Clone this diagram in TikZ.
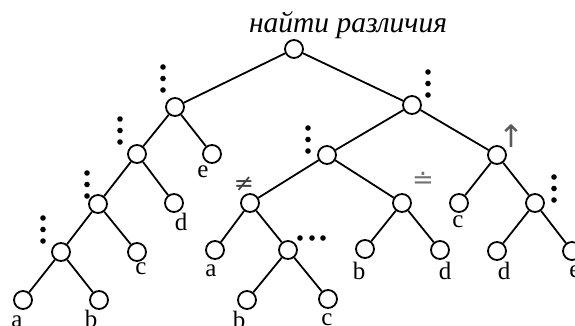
\documentclass[tikz,border=0pt]{standalone}
\usepackage{fontspec}
\setmainfont{Liberation Serif}
\newfontfamily\titlefont{Liberation Serif}
\newfontfamily\symfont{DejaVu Sans}
\begin{document}
\begin{tikzpicture}[x=1bp,y=-1bp,
  vtx/.style={circle,draw=black,line width=1.8bp,fill=white,minimum size=18bp,inner sep=0pt},
  edge/.style={line width=1.8bp},
  lbl/.style={inner sep=0pt,font=\fontsize{25bp}{25bp}\selectfont},
  sym/.style={inner sep=0pt},
  dotm/.style={fill=black,draw=none}]
\useasboundingbox (0,0) rectangle (575,325);
% title
\node[inner sep=0pt,anchor=base,font=\titlefont\itshape\fontsize{29.5bp}{29.5bp}\selectfont] (title) at (348,32) {найти различия};
% vertices
\node[vtx] (r) at (294,49) {};
\node[vtx] (A) at (175,107) {};
\node[vtx] (B) at (412,105) {};
\node[vtx] (A1) at (137,154) {};
\node[vtx] (Ae) at (212,154) {};
\node[vtx] (A2) at (98,204) {};
\node[vtx] (Ad) at (174,203) {};
\node[vtx] (A3) at (61,252) {};
\node[vtx] (Ac) at (137,252) {};
\node[vtx] (Aa) at (23,300) {};
\node[vtx] (Ab) at (99,300) {};
\node[vtx] (B1) at (327,155) {};
\node[vtx] (B2) at (497,155) {};
\node[vtx] (C1) at (250,203) {};
\node[vtx] (C2) at (402,203) {};
\node[vtx] (Ca) at (215,250) {};
\node[vtx] (Cx) at (288,250) {};
\node[vtx] (Cb) at (247,300) {};
\node[vtx] (Cc) at (328,299) {};
\node[vtx] (Db) at (365,249) {};
\node[vtx] (Dd) at (440,250) {};
\node[vtx] (Ec) at (459,203) {};
\node[vtx] (Ex) at (535,203) {};
\node[vtx] (Ed) at (497,251) {};
\node[vtx] (Ee) at (572,251) {};
% edges
\draw[edge] (r) -- (A);
\draw[edge] (r) -- (B);
\draw[edge] (A) -- (A1);
\draw[edge] (A) -- (Ae);
\draw[edge] (A1) -- (A2);
\draw[edge] (A1) -- (Ad);
\draw[edge] (A2) -- (A3);
\draw[edge] (A2) -- (Ac);
\draw[edge] (A3) -- (Aa);
\draw[edge] (A3) -- (Ab);
\draw[edge] (B) -- (B1);
\draw[edge] (B) -- (B2);
\draw[edge] (B1) -- (C1);
\draw[edge] (B1) -- (C2);
\draw[edge] (C1) -- (Ca);
\draw[edge] (C1) -- (Cx);
\draw[edge] (Cx) -- (Cb);
\draw[edge] (Cx) -- (Cc);
\draw[edge] (C2) -- (Db);
\draw[edge] (C2) -- (Dd);
\draw[edge] (B2) -- (Ec);
\draw[edge] (B2) -- (Ex);
\draw[edge] (Ex) -- (Ed);
\draw[edge] (Ex) -- (Ee);
% leaf labels
\node[lbl] (la1) at (17,322) {a};
\node[lbl] (lb1) at (91,319) {b};
\node[lbl] (lc1) at (141,269) {c};
\node[lbl] (ld1) at (181,222) {d};
\node[lbl] (le1) at (203,172) {e};
\node[lbl] (la2) at (211,271) {a};
\node[lbl] (lb2) at (239,320) {b};
\node[lbl] (lc2) at (327,320) {c};
\node[lbl] (lb3) at (359,271) {b};
\node[lbl] (ld3) at (445,271) {d};
\node[lbl] (lc3) at (458,222) {c};
\node[lbl] (ld4) at (504,271) {d};
\node[lbl] (le4) at (575,272) {e};
% symbols
\node[sym,text=black!75,font=\symfont\fontsize{24bp}{24bp}\selectfont] (neq) at (244,184) {≠};
\node[sym,text=black!55,font=\symfont\fontsize{26bp}{26bp}\selectfont] (dq) at (423,180) {≐};
\node[sym,text=black!65,font=\symfont\fontsize{31bp}{31bp}\selectfont] (up) at (511,136) {↑};
% vertical dots
\foreach \x/\y in {163/67,120/119,87/173,43/218,428/72,308/128,554/177}{
  \fill[dotm] (\x,\y) circle (2.8bp);
  \fill[dotm] (\x,\y+11.5) circle (2.8bp);
  \fill[dotm] (\x,\y+23) circle (2.8bp);
}
% horizontal dots
\foreach \x in {300,312,323}{\fill[dotm] (\x,238) circle (2.8bp);}
\end{tikzpicture}
\end{document}
